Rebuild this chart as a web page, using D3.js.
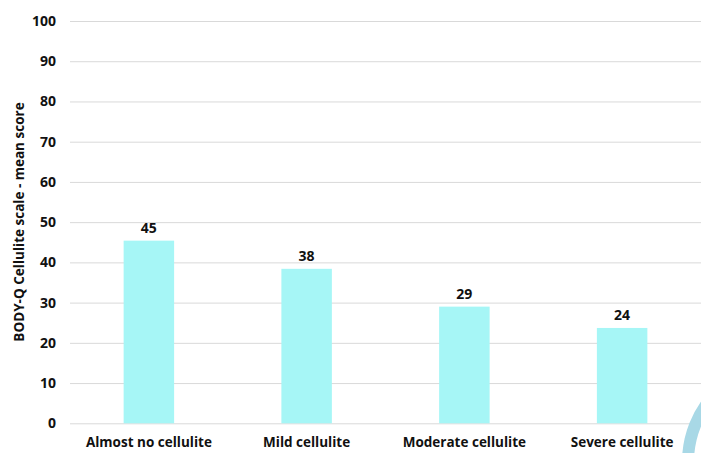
<!DOCTYPE html>
<html><head><meta charset="utf-8">
<script src="https://cdn.jsdelivr.net/npm/d3@7"></script>
<style>body{margin:0;background:#fff;} svg{display:block;font-family:"Open Sans",sans-serif;}</style>
</head><body>
<script>
const categories = ["Almost no cellulite","Mild cellulite","Moderate cellulite","Severe cellulite"];
const values = [45.4, 38.4, 29.0, 23.7];
const valueLabels = ["45","38","29","24"];
const yTicks = [0,10,20,30,40,50,60,70,80,90,100];
const yTitle = "BODY-Q Cellulite scale - mean score";

const W = 701, H = 453;
const svg = d3.select("body").append("svg").attr("width", W).attr("height", H);
const m = {left:70, right:0, top:21, bottom:30};
const x = d3.scaleBand().domain(categories).range([m.left, W - m.right]).paddingInner(0.68).paddingOuter(0.34);
const y = d3.scaleLinear().domain([0,100]).range([423.3, m.top]);

const yAxis = svg.append("g").attr("transform", `translate(${m.left},0)`)
  .call(d3.axisLeft(y).tickValues(yTicks).tickSize(-(W - m.left)).tickPadding(14));
yAxis.select(".domain").remove();
yAxis.selectAll(".tick line").attr("stroke", "#d9d9d9").attr("stroke-width", 1);
yAxis.selectAll(".tick text").attr("font-size", 14).attr("font-weight", "bold").attr("fill", "#111").attr("font-family", "'Open Sans',sans-serif");

svg.append("g").selectAll("rect").data(values).join("rect")
  .attr("x", (d,i) => x(categories[i]))
  .attr("width", x.bandwidth())
  .attr("y", d => y(d))
  .attr("height", d => y(0) - y(d))
  .attr("fill", "#a6f6f6");

svg.append("g").selectAll("text").data(values).join("text")
  .attr("x", (d,i) => x(categories[i]) + x.bandwidth()/2)
  .attr("y", d => y(d) - 8)
  .attr("text-anchor", "middle")
  .attr("font-size", 14).attr("font-weight", "bold").attr("fill", "#111")
  .text((d,i) => valueLabels[i]);

const xAxis = svg.append("g").attr("transform", `translate(0,${y(0)})`)
  .call(d3.axisBottom(x).tickSize(0).tickPadding(14));
xAxis.select(".domain").remove();
xAxis.selectAll(".tick text").attr("font-size", 13.5).attr("font-weight", "bold").attr("fill", "#111").attr("font-family", "'Open Sans',sans-serif");

svg.append("text")
  .attr("transform", `translate(24,222) rotate(-90)`)
  .attr("text-anchor", "middle")
  .attr("font-size", 13.5).attr("font-weight", "bold").attr("fill", "#111")
  .text(yTitle);

// decorative ring at bottom-right
svg.append("circle").attr("cx", 788).attr("cy", 462).attr("r", 100)
  .attr("fill", "none").attr("stroke", "#a8d8e6").attr("stroke-width", 12);
</script>
</body></html>
